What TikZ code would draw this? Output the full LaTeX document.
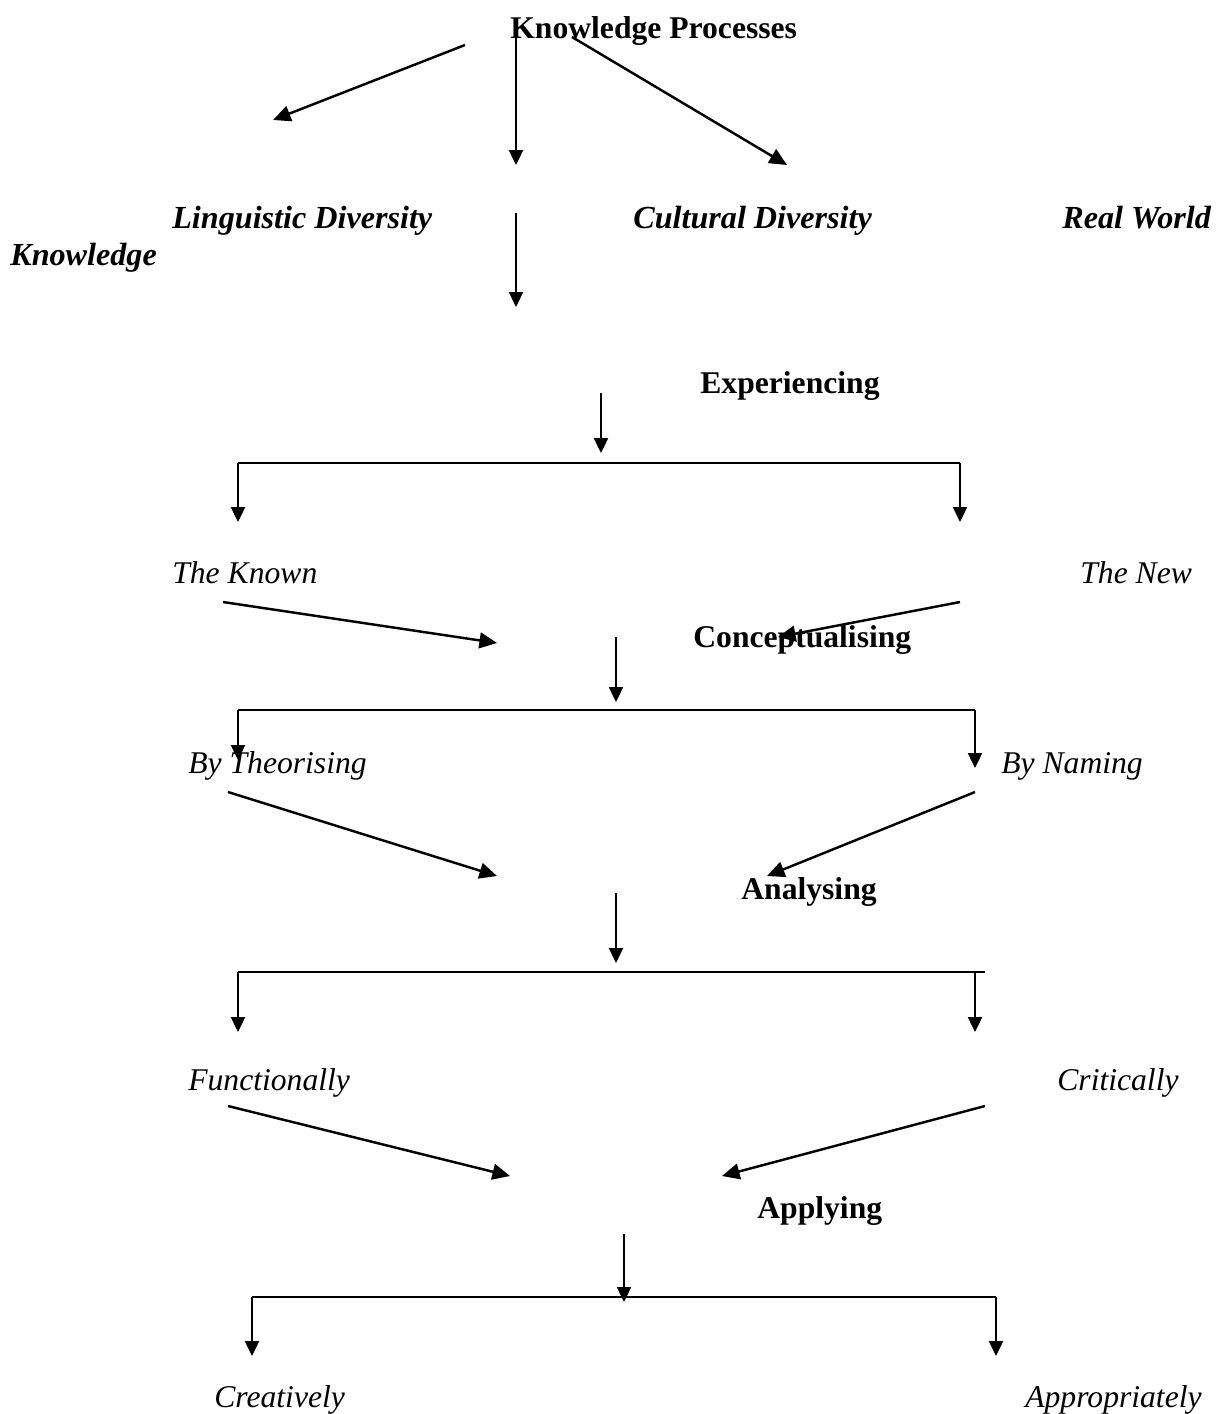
\documentclass[tikz,border=0pt]{standalone}
\usepackage{fontspec}
\setmainfont{Liberation Serif}
\usetikzlibrary{arrows.meta}
\tikzset{
  lbl/.style={anchor=base west,inner sep=0pt,font=\fontsize{18}{22}\selectfont},
  head/.style={lbl,font=\fontsize{18}{22}\selectfont\bfseries},
  term/.style={lbl,font=\fontsize{18.3}{22}\selectfont\bfseries\itshape},
  way/.style={lbl,font=\fontsize{18}{22}\selectfont\itshape},
  down/.style={line width=1.1pt,-{Triangle[length=8.5pt,width=8pt]}},
  slant/.style={line width=1.4pt,-{Triangle[length=10pt,width=9pt]}},
  bar/.style={line width=1.1pt}
}
\begin{document}
\begin{tikzpicture}[x=0.02cm,y=-0.02cm]
\useasboundingbox (0,0) rectangle (1219,1414);
% labels
\node[head] (kp) at (510,38) {Knowledge Processes};
\node[term] (ling) at (172,228) {Linguistic Diversity};
\node[term] (cult) at (633,228) {Cultural Diversity};
\node[term] (real) at (1062,228) {Real World};
\node[term] (know) at (10,265) {Knowledge};
\node[head] (exp) at (700,393) {Experiencing};
\node[way] (known) at (172,583) {The Known};
\node[way] (new) at (1080,583) {The New};
\node[head] (con) at (693,647) {Conceptualising};
\node[way] (theo) at (188,773) {By Theorising};
\node[way] (nam) at (1001,773) {By Naming};
\node[head] (ana) at (741,899) {Analysing};
\node[way] (func) at (188,1090) {Functionally};
\node[way] (crit) at (1057,1090) {Critically};
\node[head] (app) at (757,1218) {Applying};
\node[way] (crea) at (214,1407) {Creatively};
\node[way] (appr) at (1025,1407) {Appropriately};

% top fan
\coordinate (a1) at (465,45);  \coordinate (a2) at (273,120);
\coordinate (b1) at (516,30);  \coordinate (b2) at (516,165);
\coordinate (c1) at (572,37);  \coordinate (c2) at (787,165);
\coordinate (d1) at (516,213); \coordinate (d2) at (516,307);
\draw[slant] (a1) -- (a2);
\draw[down] (b1) -- (b2);
\draw[slant] (c1) -- (c2);
\draw[down] (d1) -- (d2);

% experiencing
\coordinate (e1) at (601,393); \coordinate (e2) at (601,453);
\coordinate (el) at (238,463); \coordinate (er) at (960,463);
\coordinate (el2) at (238,522); \coordinate (er2) at (960,522);
\draw[down] (e1) -- (e2);
\draw[bar] (el) -- (er);
\draw[down] (el) -- (el2);
\draw[down] (er) -- (er2);
\coordinate (f1) at (223,602); \coordinate (f2) at (497,643);
\coordinate (g1) at (960,602); \coordinate (g2) at (778,637);
\draw[slant] (f1) -- (f2);
\draw[slant] (g1) -- (g2);

% conceptualising
\coordinate (h1) at (616,637); \coordinate (h2) at (616,702);
\coordinate (hl) at (238,710); \coordinate (hr) at (975,710);
\coordinate (hl2) at (238,760); \coordinate (hr2) at (975,768);
\draw[down] (h1) -- (h2);
\draw[bar] (hl) -- (hr);
\draw[down] (hl) -- (hl2);
\draw[down] (hr) -- (hr2);
\coordinate (i1) at (228,792); \coordinate (i2) at (497,876);
\coordinate (j1) at (975,792); \coordinate (j2) at (767,876);
\draw[slant] (i1) -- (i2);
\draw[slant] (j1) -- (j2);

% analysing
\coordinate (k1) at (616,893); \coordinate (k2) at (616,963);
\coordinate (kl) at (238,972); \coordinate (kr) at (985,972);
\coordinate (kl2) at (238,1032); \coordinate (kr3) at (975,972);
\coordinate (kr2) at (975,1032);
\draw[down] (k1) -- (k2);
\draw[bar] (kl) -- (kr);
\draw[down] (kl) -- (kl2);
\draw[down] (kr3) -- (kr2);
\coordinate (m1) at (228,1106); \coordinate (m2) at (510,1176);
\coordinate (n1) at (985,1106); \coordinate (n2) at (722,1176);
\draw[slant] (m1) -- (m2);
\draw[slant] (n1) -- (n2);

% applying
\coordinate (p1) at (624,1234); \coordinate (p2) at (624,1302);
\coordinate (pl) at (252,1297); \coordinate (pr) at (996,1297);
\coordinate (pl2) at (252,1356); \coordinate (pr2) at (996,1356);
\draw[down] (p1) -- (p2);
\draw[bar] (pl) -- (pr);
\draw[down] (pl) -- (pl2);
\draw[down] (pr) -- (pr2);
\end{tikzpicture}
\end{document}
